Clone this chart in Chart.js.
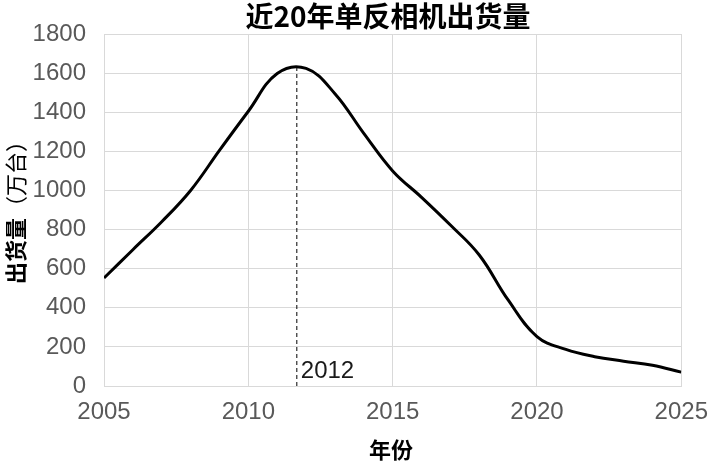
<!DOCTYPE html>
<html>
<head>
<meta charset="utf-8">
<script src="https://cdn.jsdelivr.net/npm/chart.js@4.4.1/dist/chart.umd.min.js"></script>
<style>
html,body{margin:0;padding:0;background:#fff;}
#wrap{width:720px;height:466px;position:relative;}
</style>
</head>
<body>
<div id="wrap"><canvas id="c" width="720" height="466"></canvas></div>
<script>
const chartTitle = '近20年单反相机出货量';
const xTitle = '年份';
const yTitleMain = '出货量';
const yTitleUnit = '（万台）';
const years = [2005,2006,2007,2008,2009,2010,2011,2012,2013,2014,2015,2016,2017,2018,2019,2020,2021,2022,2023,2024,2025];
const shipments = [552,697,840,1000,1205,1405,1598,1624,1495,1292,1100,965,823,670,440,253,187,150,127,106,71];
const peakYear = 2011.68;
const peakValue = 1630;
const peakLabel = '2012';
const xTicks = [2005,2010,2015,2020,2025];
const yMin = 0, yMax = 1800, yStep = 200;

const tickFont = {family: "'Liberation Sans', 'Noto Sans CJK SC', sans-serif", size: 24};
const cjkFamily = "'Noto Sans CJK SC', sans-serif";

const textPlugin = {
  id: 'texts',
  afterDraw(chart) {
    const ctx = chart.ctx;
    const xs = chart.scales.x, ys = chart.scales.y;
    ctx.save();
    ctx.fillStyle = '#000';
    ctx.font = "bold 28px " + cjkFamily;
    ctx.textAlign = 'center';
    ctx.textBaseline = 'middle';
    ctx.fillText(chartTitle, 388, 16);
    ctx.font = "bold 22px " + cjkFamily;
    ctx.fillText(xTitle, 391, 450);
    ctx.translate(16, 207);
    ctx.rotate(-Math.PI/2);
    ctx.font = "bold 22px " + cjkFamily;
    const w1 = ctx.measureText(yTitleMain).width;
    ctx.font = "22px " + cjkFamily;
    const w2 = ctx.measureText(yTitleUnit).width;
    const start = -(w1 + w2)/2;
    ctx.textAlign = 'left';
    ctx.font = "bold 22px " + cjkFamily;
    ctx.fillText(yTitleMain, start, 0);
    ctx.font = "22px " + cjkFamily;
    ctx.fillText(yTitleUnit, start + w1, 0);
    ctx.restore();
    ctx.save();
    ctx.fillStyle = '#1a1a1a';
    ctx.font = tickFont.size + "px " + tickFont.family;
    ctx.textAlign = 'left';
    ctx.textBaseline = 'middle';
    ctx.fillText(peakLabel, xs.getPixelForValue(peakYear) + 4, ys.getPixelForValue(0) - 15);
    ctx.restore();
  }
};

new Chart(document.getElementById('c'), {
  type: 'line',
  data: {
    datasets: [
      {
        data: years.map((y, i) => ({x: y, y: shipments[i]})),
        borderColor: '#000',
        borderWidth: 3,
        pointRadius: 0,
        tension: 0.4,
        fill: false
      },
      {
        data: [{x: peakYear, y: 0}, {x: peakYear, y: peakValue}],
        borderColor: '#000',
        borderWidth: 1,
        borderDash: [4, 3],
        pointRadius: 0,
        tension: 0,
        fill: false
      }
    ]
  },
  options: {
    responsive: false,
    animation: false,
    layout: {padding: {top: 34, right: 37, left: 0, bottom: 0}},
    plugins: {legend: {display: false}, title: {display: false}, tooltip: {enabled: false}},
    scales: {
      x: {
        type: 'linear',
        min: 2005, max: 2025,
        afterBuildTicks(scale) { scale.ticks = xTicks.map(v => ({value: v})); },
        afterFit(scale) { scale.height = 80; },
        grid: {color: '#d9d9d9', lineWidth: 1, drawTicks: false},
        border: {display: true, color: '#d9d9d9', width: 1},
        ticks: {
          color: '#595959', font: tickFont, padding: 12, maxRotation: 0,
          callback: v => String(v)
        }
      },
      y: {
        min: yMin, max: yMax,
        afterFit(scale) { scale.width = 104; },
        grid: {color: '#d9d9d9', lineWidth: 1, drawTicks: false},
        border: {display: true, color: '#d9d9d9', width: 1},
        ticks: {stepSize: yStep, color: '#595959', font: tickFont, padding: 18, callback: v => String(v)}
      }
    }
  },
  plugins: [textPlugin]
});
</script>
</body>
</html>
